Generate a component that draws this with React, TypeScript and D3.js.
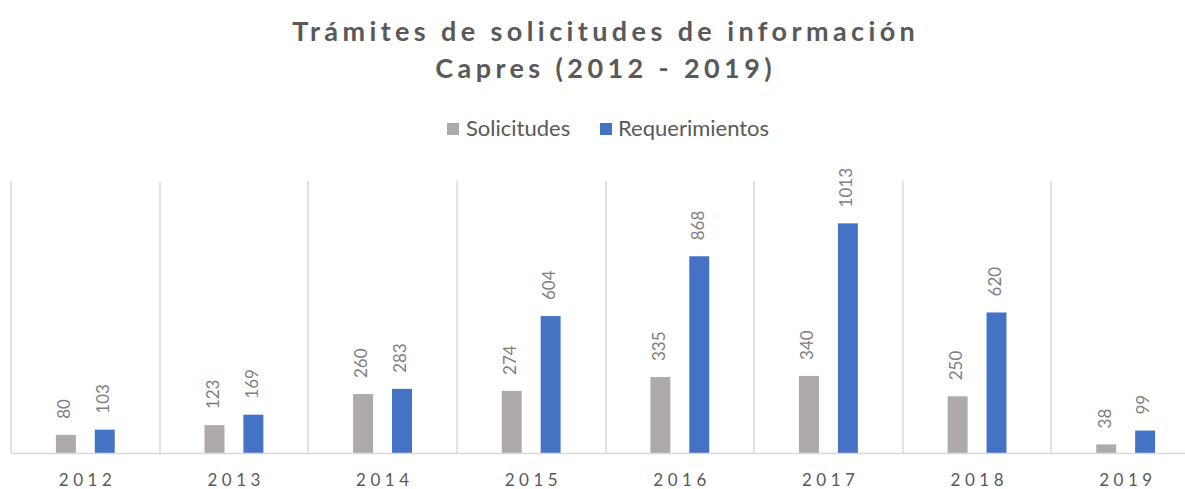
import React from "react";
import * as d3 from "d3";

const years = ["2012", "2013", "2014", "2015", "2016", "2017", "2018", "2019"];
const solicitudes = [80, 123, 260, 274, 335, 340, 250, 38];
const requerimientos = [103, 169, 283, 604, 868, 1013, 620, 99];
const seriesNames = ["Solicitudes", "Requerimientos"];
const seriesColors = ["#aeaaaa", "#4472c4"];
const titleLines = ["Trámites de solicitudes de información", "Capres (2012 - 2019)"];

const W = 1185;
const H = 489;
const FONT = "Lato, 'Open Sans', sans-serif";

export default function App() {
  const left = 11;
  const right = 1200;
  const top = 181;
  const bottom = 453;

  const x = d3.scaleBand<string>().domain(years).range([left, right]).padding(0);
  const xs = d3
    .scaleBand<string>()
    .domain(seriesNames)
    .range([0, x.bandwidth()])
    .paddingInner(0.487)
    .paddingOuter(1.154);
  const y = d3.scaleLinear().domain([0, 1200]).range([bottom, top]);

  const series = [solicitudes, requerimientos];
  const titleSpacing = 4.4;
  const axisSpacing = 4.5;

  return (
    <svg width={W} height={H} style={{ position: "absolute", left: 0, top: 0, background: "#fff" }}>
      <rect x={0} y={0} width={W} height={H} fill="#fff" />
      {/* title */}
      {titleLines.map((t, i) => (
        <text
          key={i}
          x={603.5 + titleSpacing / 2}
          y={41 + i * 37}
          textAnchor="middle"
          fontFamily={FONT}
          fontWeight="bold"
          fontSize={27}
          letterSpacing={titleSpacing}
          fill="#595959"
        >
          {t}
        </text>
      ))}
      {/* legend */}
      <rect x={447} y={123} width={12} height={12} fill={seriesColors[0]} />
      <text x={466} y={136} fontFamily={FONT} fontSize={22} fill="#595959">
        {seriesNames[0]}
      </text>
      <rect x={600} y={123} width={12} height={12} fill={seriesColors[1]} />
      <text x={618} y={136} fontFamily={FONT} fontSize={22} fill="#595959">
        {seriesNames[1]}
      </text>
      {/* gridlines (vertical category separators) */}
      {years.map((yr) => (
        <line
          key={"g" + yr}
          x1={Math.round(x(yr) as number)}
          x2={Math.round(x(yr) as number)}
          y1={top}
          y2={bottom}
          stroke="#d9d9d9"
          strokeWidth={1.5}
        />
      ))}
      {/* bars */}
      {years.map((yr, i) =>
        series.map((vals, s) => {
          const bx = (x(yr) as number) + (xs(seriesNames[s]) as number);
          const bw = xs.bandwidth();
          const v = vals[i];
          const by = y(v);
          return (
            <g key={yr + s}>
              <rect x={bx} y={by} width={bw} height={bottom - by} fill={seriesColors[s]} />
              <text
                transform={`translate(${bx + bw / 2},${by - 16}) rotate(-90)`}
                textAnchor="start"
                dominantBaseline="middle"
                fontFamily={FONT}
                fontSize={17}
                fill="#7f7f7f"
              >
                {v}
              </text>
            </g>
          );
        })
      )}
      {/* baseline */}
      <line x1={left} x2={right} y1={bottom + 0.5} y2={bottom + 0.5} stroke="#d9d9d9" strokeWidth={1.5} />
      {/* x axis labels */}
      {years.map((yr) => (
        <text
          key={"l" + yr}
          x={(x(yr) as number) + x.bandwidth() / 2 + axisSpacing / 2}
          y={486}
          textAnchor="middle"
          fontFamily={FONT}
          fontSize={17}
          letterSpacing={axisSpacing}
          fill="#595959"
        >
          {yr}
        </text>
      ))}
    </svg>
  );
}
